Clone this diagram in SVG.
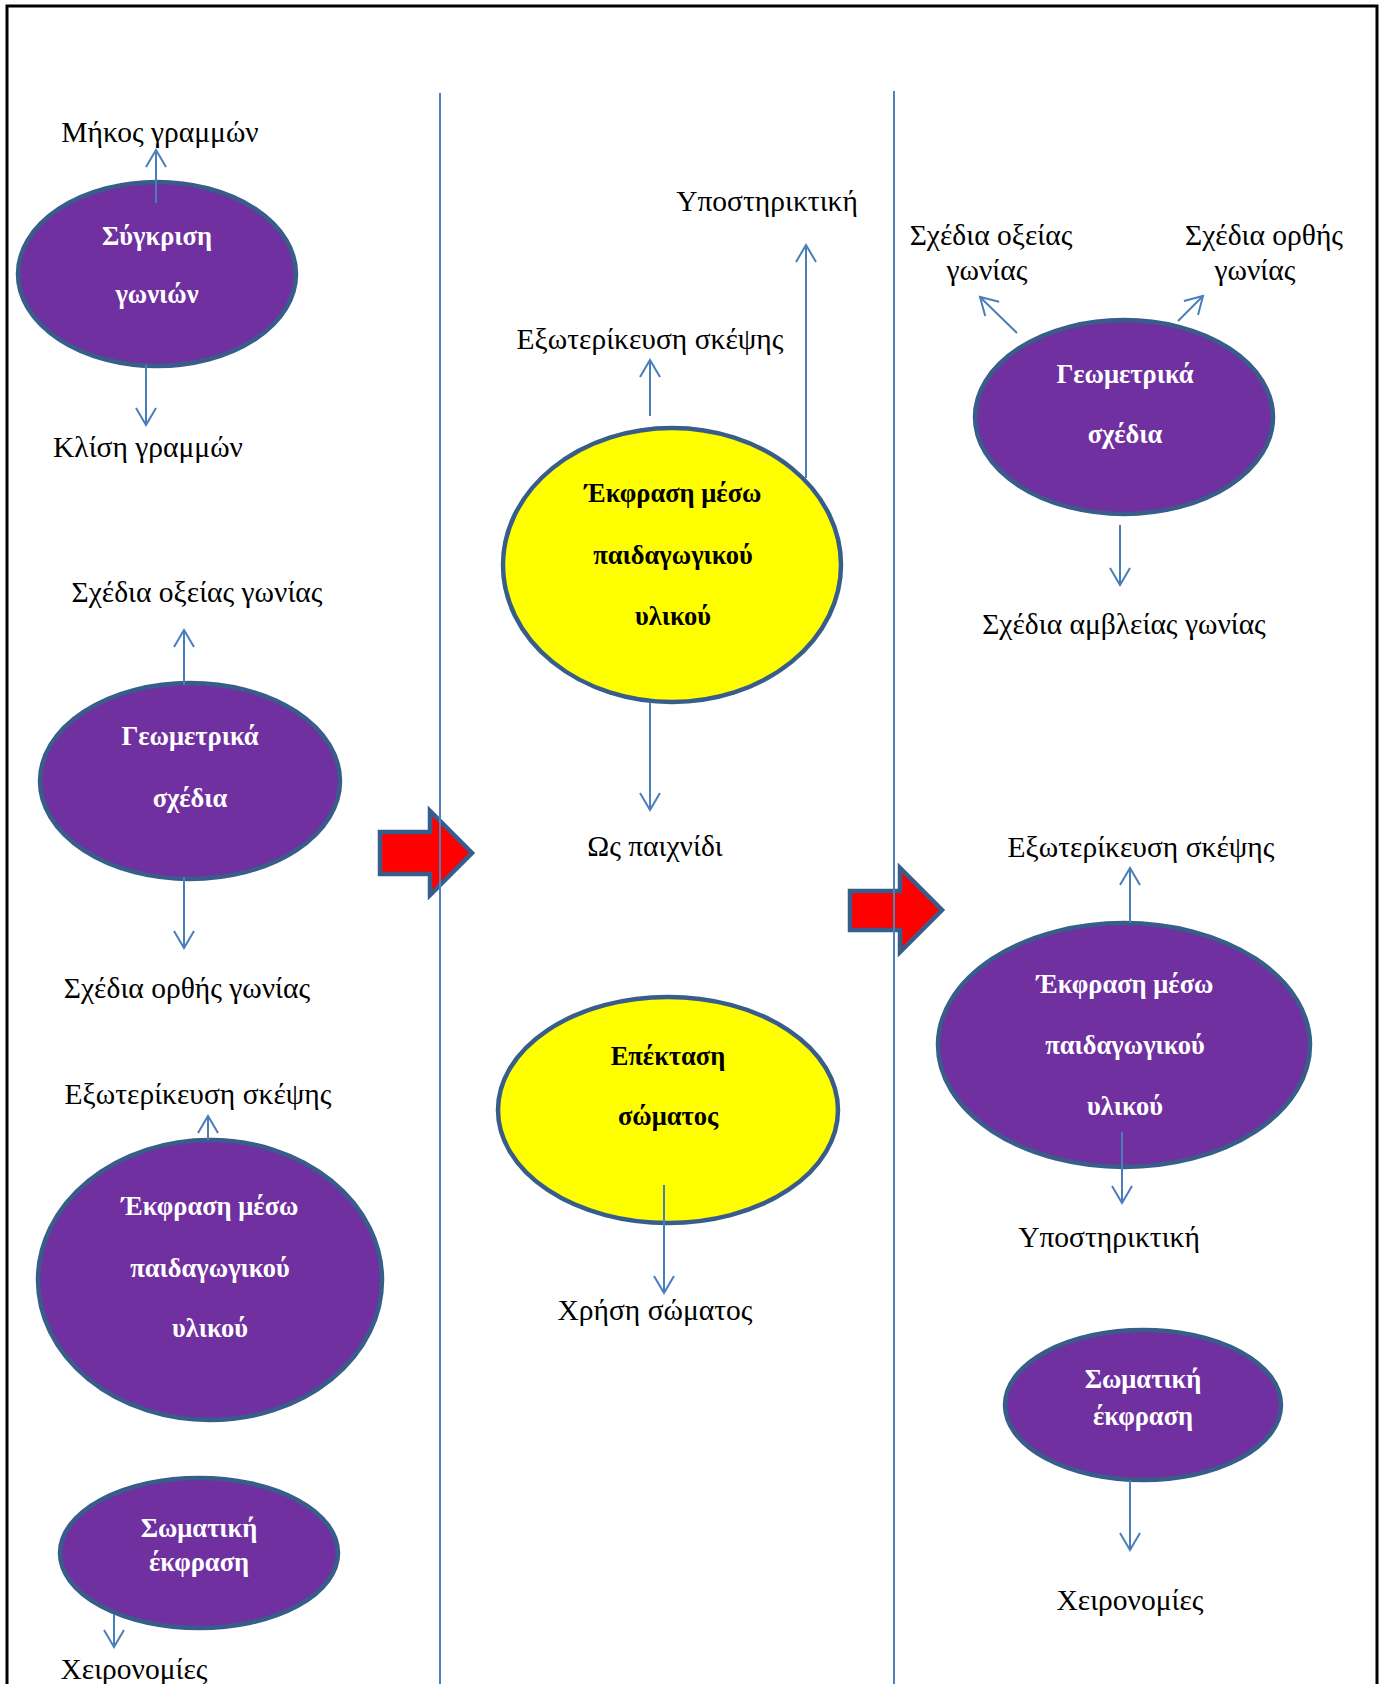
<svg xmlns="http://www.w3.org/2000/svg" width="1386" height="1684" viewBox="0 0 1386 1684">
<defs>
<style>
.lbl{font-family:"Liberation Serif","Times New Roman",serif;font-size:29.5px;fill:#000;text-anchor:middle}
.nt{font-family:"Liberation Serif","Times New Roman",serif;font-size:26.5px;font-weight:bold;text-anchor:middle}
.w{fill:#fff}
.k{fill:#000}
.pur{fill:#7030A0;stroke:#385D8A;stroke-width:4.5}
.yel{fill:#FFFF00;stroke:#385D8A;stroke-width:4.5}
.red{fill:#FF0000;stroke:#385D8A;stroke-width:4.5;stroke-linejoin:miter}
.con line{stroke:#4A7EBB;stroke-width:2;fill:none;marker-end:url(#ah)}
.sep{stroke:#4F81BD;stroke-width:2}
</style>
<marker id="ah" markerUnits="userSpaceOnUse" markerWidth="22" markerHeight="22" viewBox="0 0 22 22" refX="19" refY="11" orient="auto">
<path d="M2,1 L19,11 L2,21" fill="none" stroke="#4A7EBB" stroke-width="2"/>
</marker>
</defs>
<rect width="1386" height="1684" fill="#fff"/>
<path d="M7,1700 V6 H1377 V1700" fill="none" stroke="#000" stroke-width="3"/>

<g id="arrow1"><path class="red" d="M380,832 H430 V811 L472,853 L430,895 V874 H380 Z"/></g>
<g id="arrow2"><path class="red" d="M850,891 H900 V868 L942,910 L900,952 V930 H850 Z"/></g>

<g id="separators">
<line class="sep" x1="440" y1="93" x2="440" y2="1684"/>
<line class="sep" x1="894" y1="91" x2="894" y2="1684"/>
</g>

<g id="n-sygkrisi"><ellipse class="pur" cx="157" cy="274" rx="139" ry="92"/>
<text class="nt w" x="157" y="245">Σύγκριση</text><text class="nt w" x="157" y="303">γωνιών</text></g>

<g id="n-geom-left"><ellipse class="pur" cx="190" cy="781" rx="150" ry="98"/>
<text class="nt w" x="190" y="745">Γεωμετρικά</text><text class="nt w" x="190" y="807">σχέδια</text></g>

<g id="n-ekfrasi-left"><ellipse class="pur" cx="210" cy="1280" rx="172" ry="140"/>
<text class="nt w" x="210" y="1215">Έκφραση μέσω</text><text class="nt w" x="210" y="1277">παιδαγωγικού</text><text class="nt w" x="210" y="1337">υλικού</text></g>

<g id="n-somatiki-left"><ellipse class="pur" cx="199" cy="1553" rx="139" ry="75"/>
<text class="nt w" x="199" y="1537">Σωματική</text><text class="nt w" x="199" y="1571">έκφραση</text></g>

<g id="n-ekfrasi-mid"><ellipse class="yel" cx="672" cy="565" rx="169" ry="137"/>
<text class="nt k" x="673" y="502">Έκφραση μέσω</text><text class="nt k" x="673" y="564">παιδαγωγικού</text><text class="nt k" x="673" y="625">υλικού</text></g>

<g id="n-epektasi"><ellipse class="yel" cx="668" cy="1110" rx="170" ry="113"/>
<text class="nt k" x="668" y="1065">Επέκταση</text><text class="nt k" x="668" y="1125">σώματος</text></g>

<g id="n-geom-right"><ellipse class="pur" cx="1124" cy="417" rx="149" ry="97"/>
<text class="nt w" x="1125" y="383">Γεωμετρικά</text><text class="nt w" x="1125" y="443">σχέδια</text></g>

<g id="n-ekfrasi-right"><ellipse class="pur" cx="1124" cy="1045" rx="186" ry="122"/>
<text class="nt w" x="1125" y="993">Έκφραση μέσω</text><text class="nt w" x="1125" y="1054">παιδαγωγικού</text><text class="nt w" x="1125" y="1115">υλικού</text></g>

<g id="n-somatiki-right"><ellipse class="pur" cx="1143" cy="1405" rx="138" ry="75"/>
<text class="nt w" x="1143" y="1388">Σωματική</text><text class="nt w" x="1143" y="1425">έκφραση</text></g>

<g id="labels">
<text class="lbl" x="160" y="142">Μήκος γραμμών</text>
<text class="lbl" x="148" y="457">Κλίση γραμμών</text>
<text class="lbl" x="197" y="602">Σχέδια οξείας γωνίας</text>
<text class="lbl" x="187" y="998">Σχέδια ορθής γωνίας</text>
<text class="lbl" x="198" y="1104">Εξωτερίκευση σκέψης</text>
<text class="lbl" x="134" y="1679">Χειρονομίες</text>
<text class="lbl" x="767" y="211">Υποστηρικτική</text>
<text class="lbl" x="650" y="349">Εξωτερίκευση σκέψης</text>
<text class="lbl" x="655" y="856">Ως παιχνίδι</text>
<text class="lbl" x="655" y="1320">Χρήση σώματος</text>
<text class="lbl" x="991" y="245">Σχέδια οξείας</text>
<text class="lbl" x="987" y="280">γωνίας</text>
<text class="lbl" x="1264" y="245">Σχέδια ορθής</text>
<text class="lbl" x="1255" y="280">γωνίας</text>
<text class="lbl" x="1124" y="634">Σχέδια αμβλείας γωνίας</text>
<text class="lbl" x="1141" y="857">Εξωτερίκευση σκέψης</text>
<text class="lbl" x="1109" y="1247">Υποστηρικτική</text>
<text class="lbl" x="1130" y="1610">Χειρονομίες</text>
</g>

<g id="connectors" class="con">
<line x1="156" y1="203" x2="156" y2="150"/>
<line x1="146" y1="365" x2="146" y2="425"/>
<line x1="184" y1="685" x2="184" y2="630"/>
<line x1="184" y1="877" x2="184" y2="948"/>
<line x1="208" y1="1140" x2="208" y2="1116"/>
<line x1="114" y1="1614" x2="114" y2="1647"/>
<line x1="806" y1="478" x2="806" y2="245"/>
<line x1="650" y1="416" x2="650" y2="360"/>
<line x1="650" y1="703" x2="650" y2="810"/>
<line x1="664" y1="1185" x2="664" y2="1293"/>
<line x1="1017" y1="333" x2="980" y2="297"/>
<line x1="1178" y1="321" x2="1203" y2="296"/>
<line x1="1120" y1="525" x2="1120" y2="585"/>
<line x1="1130" y1="923" x2="1130" y2="868"/>
<line x1="1122" y1="1132" x2="1122" y2="1203"/>
<line x1="1130" y1="1480" x2="1130" y2="1550"/>
</g>
</svg>
